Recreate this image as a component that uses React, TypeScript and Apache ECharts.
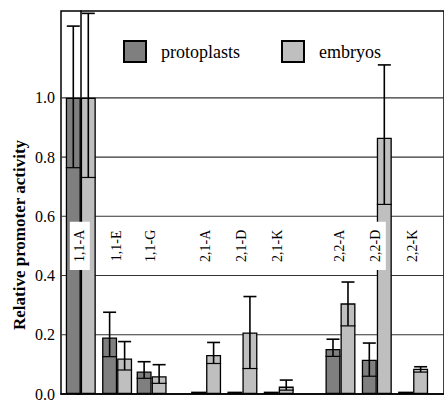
import React, { useEffect, useRef } from "react";
import * as echarts from "echarts";

const categories = ["1,1-A", "1,1-E", "1,1-G", "2,1-A", "2,1-D", "2,1-K", "2,2-A", "2,2-D", "2,2-K"];
const catPositions = [0, 1, 1.95, 3.45, 4.45, 5.45, 7.15, 8.15, 9.15];
const protoplasts = [1.0, 0.191, 0.076, 0.008, 0.008, 0.008, 0.152, 0.116, 0.008];
const protoLow: (number | null)[] = [0.764, 0.126, 0.053, null, null, null, 0.127, 0.06, null];
const protoHigh: (number | null)[] = [1.242, 0.276, 0.109, null, null, null, 0.185, 0.172, null];
const embryos = [1.0, 0.12, 0.06, 0.132, 0.208, 0.025, 0.306, 0.865, 0.085];
const embLow = [0.731, 0.081, 0.036, 0.103, 0.086, 0.013, 0.23, 0.64, 0.074];
const embHigh = [1.285, 0.177, 0.099, 0.174, 0.329, 0.047, 0.378, 1.111, 0.092];
const yTicks = [0, 0.2, 0.4, 0.6, 0.8, 1.0];
const gridValues = [0.2, 0.4, 0.6, 0.8, 1.0];
const seriesNames = ["protoplasts", "embryos"];
const seriesColors = ["#7f7f7f", "#bfbfbf"];

const SERIF = "Liberation Serif";
const BAR_W = 15;

export default function App() {
  const ref = useRef<HTMLDivElement>(null);
  useEffect(() => {
    document.body.style.margin = "0";
    const chart = echarts.init(ref.current!, undefined, { renderer: "svg" });
    const errData: number[][] = [];
    categories.forEach((_, i) => {
      if (protoLow[i] != null && protoHigh[i] != null) errData.push([catPositions[i], protoLow[i] as number, protoHigh[i] as number, 0]);
      errData.push([catPositions[i], embLow[i], embHigh[i], 1]);
    });
    chart.setOption({
      animation: false,
      textStyle: { fontFamily: SERIF },
      grid: { left: 61, top: 11, width: 406, height: 384, show: true, borderColor: "#000", borderWidth: 1.5, backgroundColor: "transparent" },
      legend: {
        left: 123,
        top: 40,
        padding: 0,
        itemWidth: 22,
        itemHeight: 21,
        itemGap: 41,
        icon: "rect",
        data: seriesNames,
        textStyle: { fontFamily: SERIF, fontSize: 18, color: "#000", padding: [0, 0, 0, 10] },
      },
      xAxis: {
        type: "value",
        min: -0.545,
        max: 10,
        axisLine: { show: true, lineStyle: { color: "#000", width: 1.5 } },
        axisTick: { show: false },
        axisLabel: { show: false },
        splitLine: { show: false },
      },
      yAxis: {
        type: "value",
        min: 0,
        max: 1.293,
        interval: 0.2,
        axisLine: { show: true, lineStyle: { color: "#000", width: 1.5 } },
        axisTick: { show: true, length: 4, customValues: yTicks, lineStyle: { color: "#000" } },
        axisLabel: {
          customValues: yTicks,
          margin: 6,
          color: "#000",
          fontFamily: SERIF,
          fontSize: 16,
          formatter: (v: number) => v.toFixed(1),
        },
        splitLine: { show: false },
      },
      graphic: [
        {
          type: "text",
          x: 19,
          y: 235,
          rotation: Math.PI / 2,
          style: {
            text: "Relative promoter activity",
            fontFamily: SERIF,
            fontSize: 17,
            fontWeight: "bold",
            fill: "#000",
            align: "center",
            verticalAlign: "middle",
          },
        },
      ],
      series: [
        {
          type: "custom",
          name: "grid",
          z: 1,
          silent: true,
          data: gridValues.map((v) => [0, v]),
          encode: { x: 0, y: 1 },
          renderItem: (params: any, api: any) => {
            const p = api.coord([0, api.value(1)]);
            const cs = params.coordSys;
            return {
              type: "line",
              shape: { x1: cs.x, y1: p[1], x2: cs.x + cs.width, y2: p[1] },
              style: { stroke: "#333", lineWidth: 1.2 },
            };
          },
        },
        {
          type: "bar",
          name: "protoplasts",
          z: 2,
          barWidth: BAR_W,
          barGap: "0%",
          itemStyle: { color: seriesColors[0], borderColor: "#000", borderWidth: 1.3 },
          data: catPositions.map((x, i) => [x, protoplasts[i]]),
        },
        {
          type: "bar",
          name: "embryos",
          z: 2,
          barWidth: BAR_W,
          barGap: "0%",
          itemStyle: { color: seriesColors[1], borderColor: "#000", borderWidth: 1.3 },
          data: catPositions.map((x, i) => [x, embryos[i]]),
        },
        {
          type: "custom",
          name: "err",
          z: 3,
          silent: true,
          data: errData,
          encode: { x: 0, y: [1, 2] },
          renderItem: (params: any, api: any) => {
            const x = api.value(0);
            const side = api.value(3);
            const lo = api.coord([x, api.value(1)]);
            const hi = api.coord([x, api.value(2)]);
            const cx = hi[0] + (side === 0 ? -BAR_W / 2 : BAR_W / 2);
            const st = { stroke: "#000", lineWidth: 1.6 };
            return {
              type: "group",
              children: [
                { type: "line", shape: { x1: cx, y1: lo[1], x2: cx, y2: hi[1] }, style: st },
                { type: "line", shape: { x1: cx - 6.5, y1: hi[1], x2: cx + 6.5, y2: hi[1] }, style: st },
                { type: "line", shape: { x1: cx - BAR_W / 2, y1: lo[1], x2: cx + BAR_W / 2, y2: lo[1] }, style: { stroke: "#000", lineWidth: 1.2 } },
              ],
            };
          },
        },
        {
          type: "custom",
          name: "labels",
          z: 5,
          silent: true,
          data: catPositions.map((x) => [x, 0.5]),
          encode: { x: 0, y: 1 },
          renderItem: (params: any, api: any) => {
            const i = params.dataIndex;
            const p = api.coord([api.value(0), api.value(1)]);
            return {
              type: "text",
              x: p[0] - 1,
              y: p[1],
              rotation: Math.PI / 2,
              style: {
                text: categories[i],
                fontFamily: SERIF,
                fontSize: 14,
                fill: "#000",
                align: "center",
                verticalAlign: "middle",
                backgroundColor: "#fff",
                padding: [3, 8],
              },
            };
          },
        },
      ],
    });
    return () => chart.dispose();
  }, []);
  return <div ref={ref} style={{ width: 444, height: 402 }} />;
}
